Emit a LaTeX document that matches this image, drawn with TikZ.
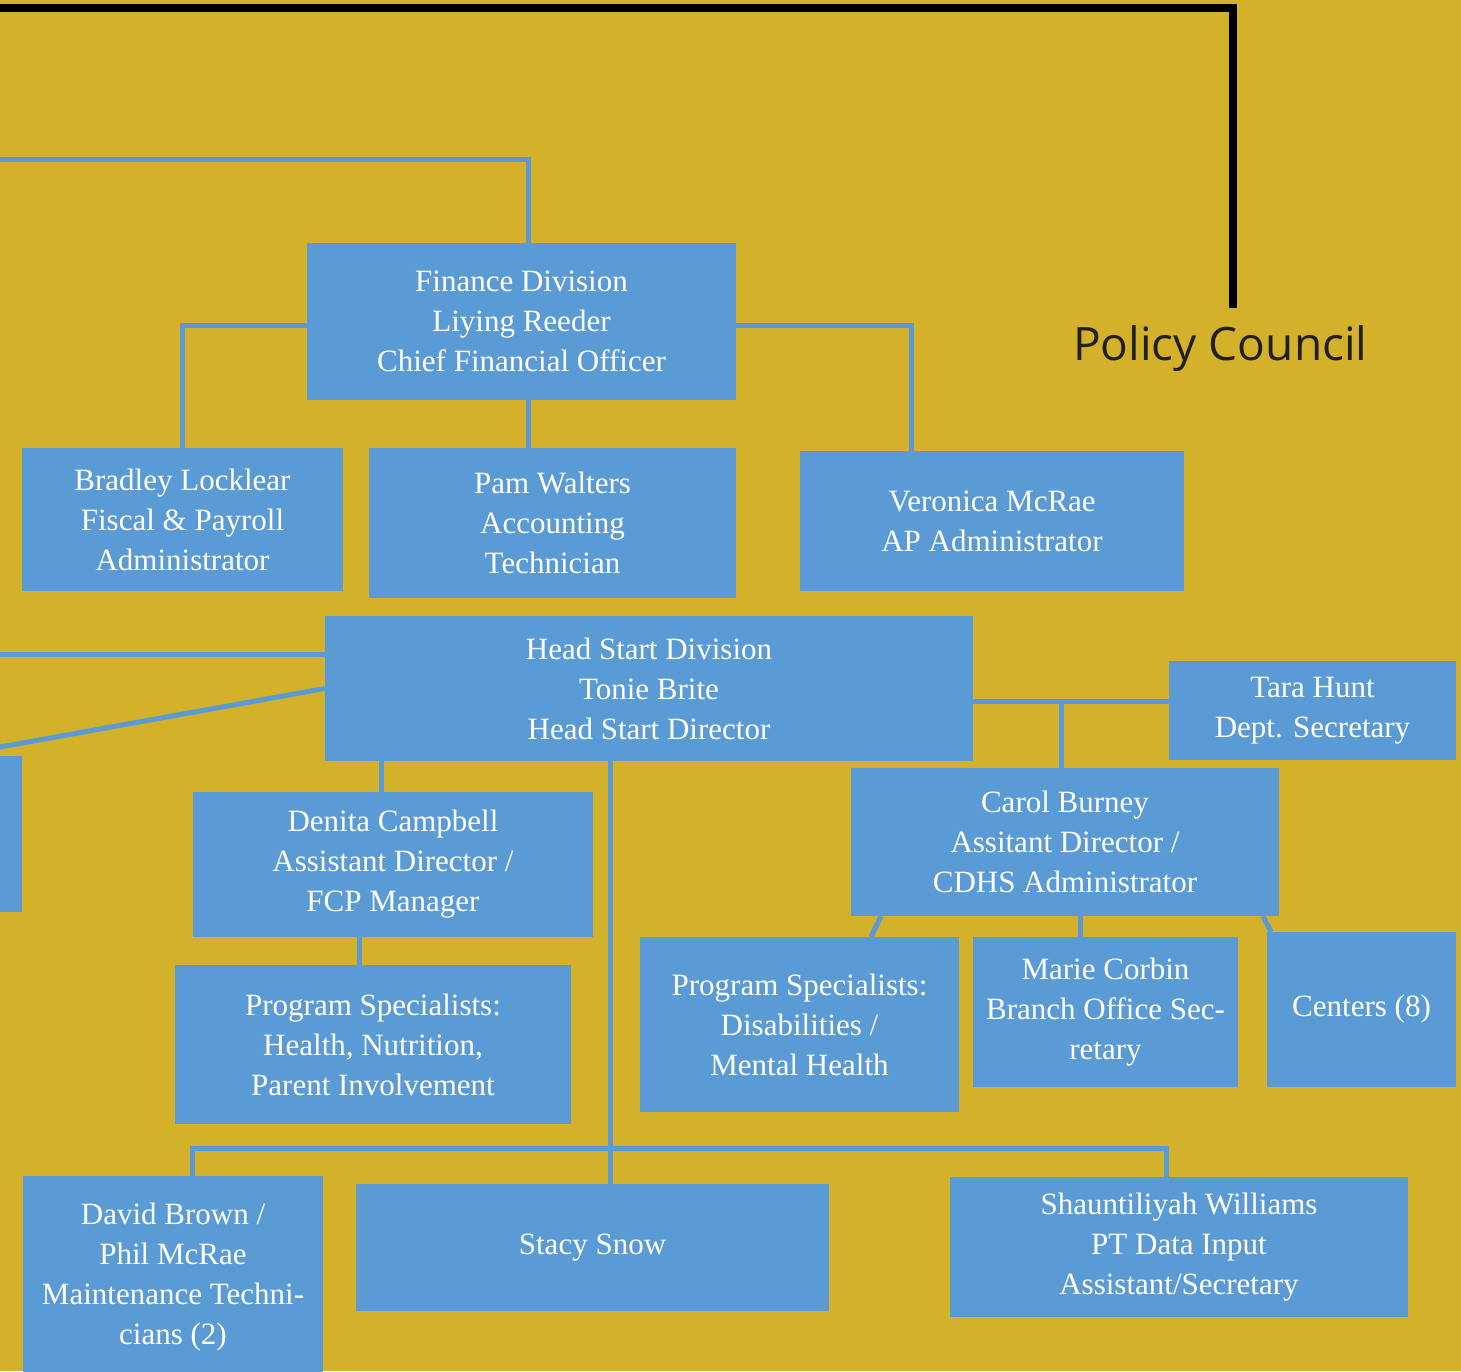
\documentclass[tikz,border=0pt]{standalone}
\usepackage{fontspec}
\setmainfont{Liberation Serif}
\newfontfamily\councilfont{Open Sans}
\definecolor{mustard}{HTML}{D3B12B}
\definecolor{boxblue}{HTML}{5B9BD5}
\definecolor{ink}{HTML}{231F20}
\tikzset{
  box/.style={fill=boxblue,text=white,inner sep=0pt,align=center,
    font=\fontsize{31}{40}\selectfont},
  link/.style={draw=boxblue,line width=5pt},
  policy/.style={draw=black,line width=8pt},
}
\begin{document}
\begin{tikzpicture}[x=1pt,y=-1pt,line join=miter]
\clip (0,0) rectangle (1461,1371);
\fill[mustard] (0,0) rectangle (1461,1371);
% finance division
\node[box,minimum width=429,minimum height=157] (fin) at (521.5,321.5) {Finance Division\\Liying Reeder\\Chief Financial Officer};
\node[box,minimum width=321,minimum height=143] (brad) at (182.5,519.5) {Bradley Locklear\\Fiscal \& Payroll\\Administrator};
\node[box,minimum width=367,minimum height=150] (pam) at (552.5,523) {Pam Walters\\Accounting\\Technician};
\node[box,minimum width=384,minimum height=140] (vero) at (992,521) {Veronica McRae\\AP Administrator};
% head start division
\node[box,minimum width=648,minimum height=145] (hs) at (649,688.5) {Head Start Division\\Tonie Brite\\Head Start Director};
\node[box,minimum width=52,minimum height=156] (stub) at (-4,834) {};
\node[box,minimum width=287,minimum height=99] (tara) at (1312.5,710.5) {Tara Hunt\\Dept. Secretary};
\node[box,minimum width=428,minimum height=148] (carol) at (1065,842) {Carol Burney\\Assitant Director /\\CDHS Administrator};
\node[box,minimum width=400,minimum height=145] (den) at (393,864.5) {Denita Campbell\\Assistant Director /\\FCP Manager};
\node[box,minimum width=396,minimum height=159] (ps1) at (373,1044.5) {Program Specialists:\\Health, Nutrition,\\Parent Involvement};
\node[box,minimum width=319,minimum height=175] (ps2) at (799.5,1024.5) {Program Specialists:\\Disabilities /\\Mental Health};
\node[box,minimum width=265,minimum height=150] (marie) at (1105.5,1012) {Marie Corbin\\Branch Office Sec-\\retary};
\node[box,minimum width=189,minimum height=155] (cent) at (1361.5,1009.5) {Centers (8)};
\node[box,minimum width=300,minimum height=202] (david) at (173,1277) {David Brown /\\Phil McRae\\Maintenance Techni-\\cians (2)};
\node[box,minimum width=473,minimum height=127] (stacy) at (592.5,1247.5) {Stacy Snow};
\node[box,minimum width=458,minimum height=140] (shaun) at (1179,1247) {Shauntiliyah Williams\\PT Data Input\\Assistant/Secretary};
\node[anchor=base west,text=ink,inner sep=0pt,font=\councilfont\fontsize{46}{50}\selectfont] (pc) at (1073,360) {Policy Council};
% connectors
\coordinate (topL) at (0,159);
\coordinate (hsL) at (0,654);
\coordinate (diagL) at (0,747);
\coordinate (blackL) at (0,8);
\coordinate (pcTop) at (1233,308);
\draw[policy] (blackL) -| (pcTop);
\draw[link] (topL) -| (528,0 |- fin.north);
\draw[link] ([yshift=-3.5]fin.west) -| (brad.north);
\draw[link] ([yshift=-3.5]fin.east) -| ([xshift=-81]vero.north);
\draw[link] (528,0 |- fin.south) -- (528,0 |- pam.north);
\draw[link] (hsL) -- (hsL -| hs.west);
\draw[link] (diagL) -- (hs.west);
\draw[link] (381,0 |- hs.south) -- (381,0 |- den.north);
\draw[link] (359,0 |- den.south) -- (359,0 |- ps1.north);
\draw[link] (610,0 |- hs.south) -- (610,0 |- stacy.north);
\draw[link] (192,0 |- david.north) |- (1166,1148) -- (1166,0 |- shaun.north);
\draw[link] (hs.east |- 0,701) -- (tara.west |- 0,701);
\draw[link] (1061,701) -- (1061,0 |- carol.north);
\draw[link] (881,0 |- carol.south) -- (871,0 |- ps2.north);
\draw[link] (1080,0 |- carol.south) -- (1080,0 |- marie.north);
\draw[link] (1263,0 |- carol.south) -- (1271,0 |- cent.north);
\end{tikzpicture}
\end{document}
